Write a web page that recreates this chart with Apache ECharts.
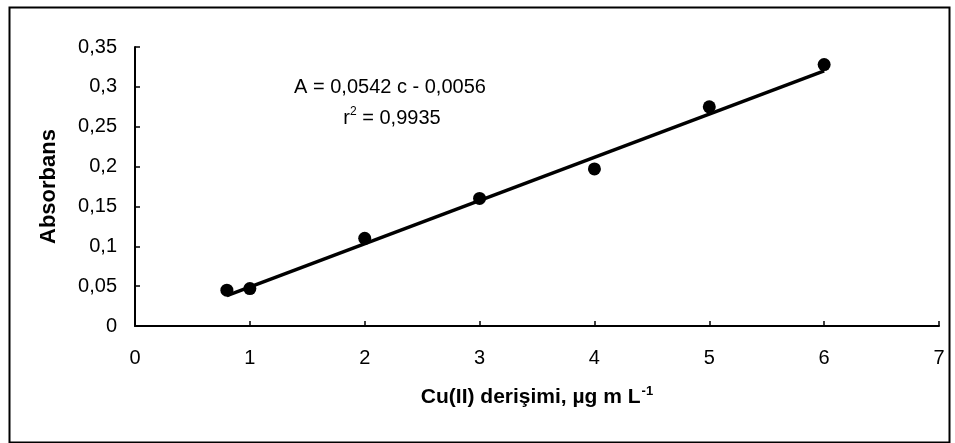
<!DOCTYPE html>
<html>
<head>
<meta charset="utf-8">
<script src="https://cdn.jsdelivr.net/npm/echarts@6/dist/echarts.min.js"></script>
<style>
html,body{margin:0;padding:0;background:#fff;}
#chart{width:955px;height:443px;}
</style>
</head>
<body>
<div id="chart"></div>
<script>
// Data
const concentrations = [0.8, 1, 2, 3, 4, 5, 6];
const absorbances = [0.045, 0.047, 0.11, 0.16, 0.197, 0.275, 0.328];
const fitX = [0.8, 6];
const fitY = [0.038, 0.32];
const xTickLabels = ['0', '1', '2', '3', '4', '5', '6', '7'];
const yTickLabels = ['0', '0,05', '0,1', '0,15', '0,2', '0,25', '0,3', '0,35'];
const xAxisTitle = 'Cu(II) derişimi, µg m L';
const xAxisTitleSup = '-1';
const yAxisTitle = 'Absorbans';
const equationLine = 'A = 0,0542 c - 0,0056';
const r2Base = 'r';
const r2Sup = '2';
const r2Value = ' = 0,9935';

const FONT = '"Liberation Sans", Arial, sans-serif';

const chart = echarts.init(document.getElementById('chart'), null, {renderer: 'canvas'});
const option = {
  backgroundColor: '#ffffff',
  animation: false,
  grid: {left: 135, right: 16, top: 47, bottom: 117},
  xAxis: {
    type: 'value', min: 0, max: 7, interval: 1,
    axisLine: {show: true, lineStyle: {color: '#000', width: 2}},
    axisTick: {show: true, inside: true, length: 5, lineStyle: {color: '#000', width: 1.5}},
    splitLine: {show: false},
    axisLabel: {
      color: '#000', fontFamily: FONT, fontSize: 20, margin: 22,
      formatter: v => xTickLabels[Math.round(v)]
    },
    name: '{b|' + xAxisTitle + '}{s|' + xAxisTitleSup + '}',
    nameLocation: 'middle', nameGap: 59,
    nameTextStyle: {
      rich: {
        b: {fontFamily: FONT, fontWeight: 'bold', fontSize: 21, color: '#000', verticalAlign: 'bottom', lineHeight: 23},
        s: {fontFamily: FONT, fontWeight: 'bold', fontSize: 13, color: '#000', verticalAlign: 'top', padding: [0, 0, 8, 1], lineHeight: 23}
      }
    }
  },
  yAxis: {
    type: 'value', min: 0, max: 0.35, interval: 0.05,
    axisLine: {show: true, lineStyle: {color: '#000', width: 2}},
    axisTick: {show: true, inside: true, length: 5, lineStyle: {color: '#000', width: 1.5}},
    splitLine: {show: false},
    axisLabel: {
      color: '#000', fontFamily: FONT, fontSize: 20, margin: 18,
      formatter: v => yTickLabels[Math.round(v / 0.05)]
    },
    name: yAxisTitle,
    nameLocation: 'middle', nameGap: 75, nameRotate: 90,
    nameTextStyle: {fontFamily: FONT, fontWeight: 'bold', fontSize: 22, color: '#000'}
  },
  series: [
    {
      type: 'line',
      data: fitX.map((x, i) => [x, fitY[i]]),
      showSymbol: false, symbol: 'none',
      lineStyle: {color: '#000', width: 3.5},
      z: 2
    },
    {
      type: 'scatter',
      data: concentrations.map((x, i) => [x, absorbances[i]]),
      symbol: 'circle', symbolSize: 13,
      itemStyle: {color: '#000', opacity: 1},
      z: 3
    }
  ],
  graphic: [
    {
      type: 'rect', left: 7, top: 5,
      shape: {width: 940, height: 435},
      style: {fill: 'none', stroke: '#000', lineWidth: 2},
      silent: true
    },
    {
      type: 'text', x: 390, y: 87,
      style: {
        text: equationLine, fontFamily: FONT, fontSize: 20, fill: '#000',
        align: 'center', verticalAlign: 'middle'
      }
    },
    {
      type: 'text', x: 392, y: 117,
      style: {
        text: '{n|' + r2Base + '}{s|' + r2Sup + '}{n|' + r2Value + '}',
        align: 'center', verticalAlign: 'middle',
        rich: {
          n: {fontFamily: FONT, fontSize: 20, fill: '#000', color: '#000', verticalAlign: 'bottom', lineHeight: 22},
          s: {fontFamily: FONT, fontSize: 12, fill: '#000', color: '#000', verticalAlign: 'top', lineHeight: 22, padding: [0, 0, 8, 0]}
        }
      }
    }
  ]
};
chart.setOption(option);
</script>
</body>
</html>
